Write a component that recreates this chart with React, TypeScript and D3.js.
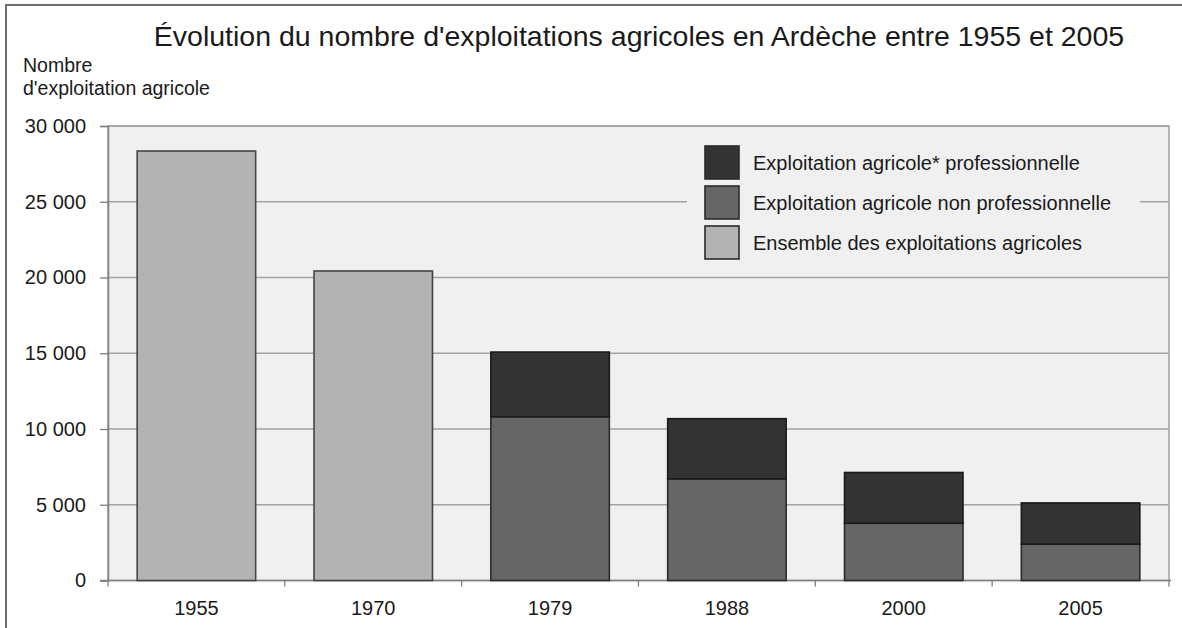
import { useEffect, useRef } from "react";
import * as d3 from "d3";

const years = ["1955", "1970", "1979", "1988", "2000", "2005"];
// total farms (1955/1970 only total known)
const totalFarms = [28350, 20430, 15080, 10680, 7130, 5120];
const nonProFarms = [0, 0, 10810, 6710, 3780, 2400];
const yTicks = [0, 5000, 10000, 15000, 20000, 25000, 30000];

const legendLabels = [
    "Exploitation agricole* professionnelle",
    "Exploitation agricole non professionnelle",
    "Ensemble des exploitations agricoles",
];

const COL_PRO = "#333333";
const COL_NONPRO = "#666666";
const COL_ALL = "#b3b3b3";

export default function App() {
    const svgRef = useRef<SVGSVGElement>(null);

    useEffect(() => {
        const width = 1182;
        const height = 628;
        const margin = { top: 126, right: 13, bottom: 47.5, left: 108 };
        const innerW = width - margin.left - margin.right;
        const innerH = height - margin.top - margin.bottom;
        const font = "'Liberation Sans', Arial, sans-serif";

        const svg = d3.select(svgRef.current);
        svg.selectAll("*").remove();
        svg.attr("width", width)
            .attr("height", height)
            .attr("viewBox", `0 0 ${width} ${height}`)
            .style("font-family", font);

        svg.append("rect")
            .attr("width", width)
            .attr("height", height)
            .attr("fill", "#ffffff");

        // outer frame (right/bottom edges cropped off in the original)
        svg.append("rect")
            .attr("x", 6)
            .attr("y", 5)
            .attr("width", width + 20)
            .attr("height", height + 20)
            .attr("fill", "none")
            .attr("stroke", "#6e6e6e")
            .attr("stroke-width", 2);

        svg.append("text")
            .attr("x", 639)
            .attr("y", 46)
            .attr("text-anchor", "middle")
            .attr("font-size", 28.5)
            .attr("fill", "#1a1a1a")
            .text("Évolution du nombre d'exploitations agricoles en Ardèche entre 1955 et 2005");

        const yLabel = svg.append("text")
            .attr("font-size", 19.5)
            .attr("fill", "#1a1a1a");
        yLabel.append("tspan").attr("x", 23).attr("y", 72).text("Nombre");
        yLabel.append("tspan").attr("x", 23).attr("y", 95).text("d'exploitation agricole");

        const chart = svg.append("g")
            .attr("transform", `translate(${margin.left}, ${margin.top})`);

        const x = d3.scaleBand()
            .domain(years)
            .range([0, innerW])
            .paddingInner(0.33)
            .paddingOuter(0.165);

        const y = d3.scaleLinear()
            .domain([0, 30000])
            .range([innerH, 0]);

        chart.append("rect")
            .attr("width", innerW)
            .attr("height", innerH)
            .attr("fill", "#f0f0f0")
            .attr("stroke", "#a0a0a0")
            .attr("stroke-width", 1.5);

        // gridlines
        chart.append("g")
            .selectAll("line")
            .data(yTicks.filter((t) => t > 0))
            .join("line")
            .attr("x1", 0)
            .attr("x2", innerW)
            .attr("y1", (d) => y(d))
            .attr("y2", (d) => y(d))
            .attr("stroke", "#a3a3a3")
            .attr("stroke-width", 1.3);

        const fmt = (v: number) => d3.format(",")(v).replace(/,/g, " ");

        const yAxis = chart.append("g")
            .call(d3.axisLeft(y).tickValues(yTicks).tickSize(8).tickPadding(14).tickFormat((d) => fmt(+d)));
        yAxis.select(".domain").attr("stroke", "#808080").attr("stroke-width", 1.5);
        yAxis.selectAll(".tick line").attr("stroke", "#808080").attr("stroke-width", 1.3);
        yAxis.selectAll("text")
            .attr("font-size", 20)
            .attr("font-family", font)
            .attr("fill", "#1a1a1a");

        // x axis: ticks at band boundaries
        const step = x.step();
        const bounds = d3.range(years.length + 1).map((i) => i * step);
        const xAxis = chart.append("g").attr("transform", `translate(0, ${innerH})`);
        xAxis.append("line")
            .attr("x1", -8)
            .attr("x2", innerW + 2)
            .attr("stroke", "#808080")
            .attr("stroke-width", 1.5);
        xAxis.selectAll(".xt")
            .data(bounds)
            .join("line")
            .attr("class", "xt")
            .attr("x1", (d) => d)
            .attr("x2", (d) => d)
            .attr("y1", 0)
            .attr("y2", 6)
            .attr("stroke", "#808080")
            .attr("stroke-width", 1.3);
        xAxis.selectAll(".xl")
            .data(years)
            .join("text")
            .attr("class", "xl")
            .attr("x", (d) => (x(d) ?? 0) + x.bandwidth() / 2)
            .attr("y", 34.5)
            .attr("text-anchor", "middle")
            .attr("font-size", 20)
            .attr("fill", "#1a1a1a")
            .text((d) => d);

        const rows = years.map((yr, i) => ({
            year: yr,
            total: totalFarms[i],
            nonPro: nonProFarms[i],
        }));

        const barG = chart.append("g")
            .attr("stroke", "#2a2a2a")
            .attr("stroke-width", 1.6);

        // single-colour bars (no breakdown)
        barG.selectAll(".all")
            .data(rows.filter((r) => r.nonPro === 0))
            .join("rect")
            .attr("class", "all")
            .attr("x", (d) => x(d.year) ?? 0)
            .attr("width", x.bandwidth())
            .attr("y", (d) => y(d.total))
            .attr("height", (d) => innerH - y(d.total))
            .attr("fill", COL_ALL)
            .attr("stroke", "#444444");

        const split = rows.filter((r) => r.nonPro > 0);
        barG.selectAll(".nonpro")
            .data(split)
            .join("rect")
            .attr("class", "nonpro")
            .attr("x", (d) => x(d.year) ?? 0)
            .attr("width", x.bandwidth())
            .attr("y", (d) => y(d.nonPro))
            .attr("height", (d) => innerH - y(d.nonPro))
            .attr("fill", COL_NONPRO);

        barG.selectAll(".pro")
            .data(split)
            .join("rect")
            .attr("class", "pro")
            .attr("x", (d) => x(d.year) ?? 0)
            .attr("width", x.bandwidth())
            .attr("y", (d) => y(d.total))
            .attr("height", (d) => y(d.nonPro) - y(d.total))
            .attr("fill", COL_PRO)
            .attr("stroke", "#1a1a1a");

        // legend
        const legend = svg.append("g").attr("transform", "translate(687, 136)");
        legend.append("rect")
            .attr("width", 453)
            .attr("height", 132)
            .attr("fill", "#f0f0f0");
        const items = legend.selectAll(".li")
            .data(legendLabels)
            .join("g")
            .attr("class", "li")
            .attr("transform", (_, i) => `translate(18, ${10 + i * 40})`);
        items.append("rect")
            .attr("width", 34)
            .attr("height", 33)
            .attr("fill", (_, i) => [COL_PRO, COL_NONPRO, COL_ALL][i])
            .attr("stroke", "#2a2a2a")
            .attr("stroke-width", 1.6);
        items.append("text")
            .attr("x", 48)
            .attr("y", 23.5)
            .attr("font-size", 20)
            .attr("fill", "#1a1a1a")
            .text((d) => d);
    }, []);

    return (
        <svg
            ref={svgRef}
            style={{ position: "absolute", left: 0, top: 0, display: "block" }}
        />
    );
}
